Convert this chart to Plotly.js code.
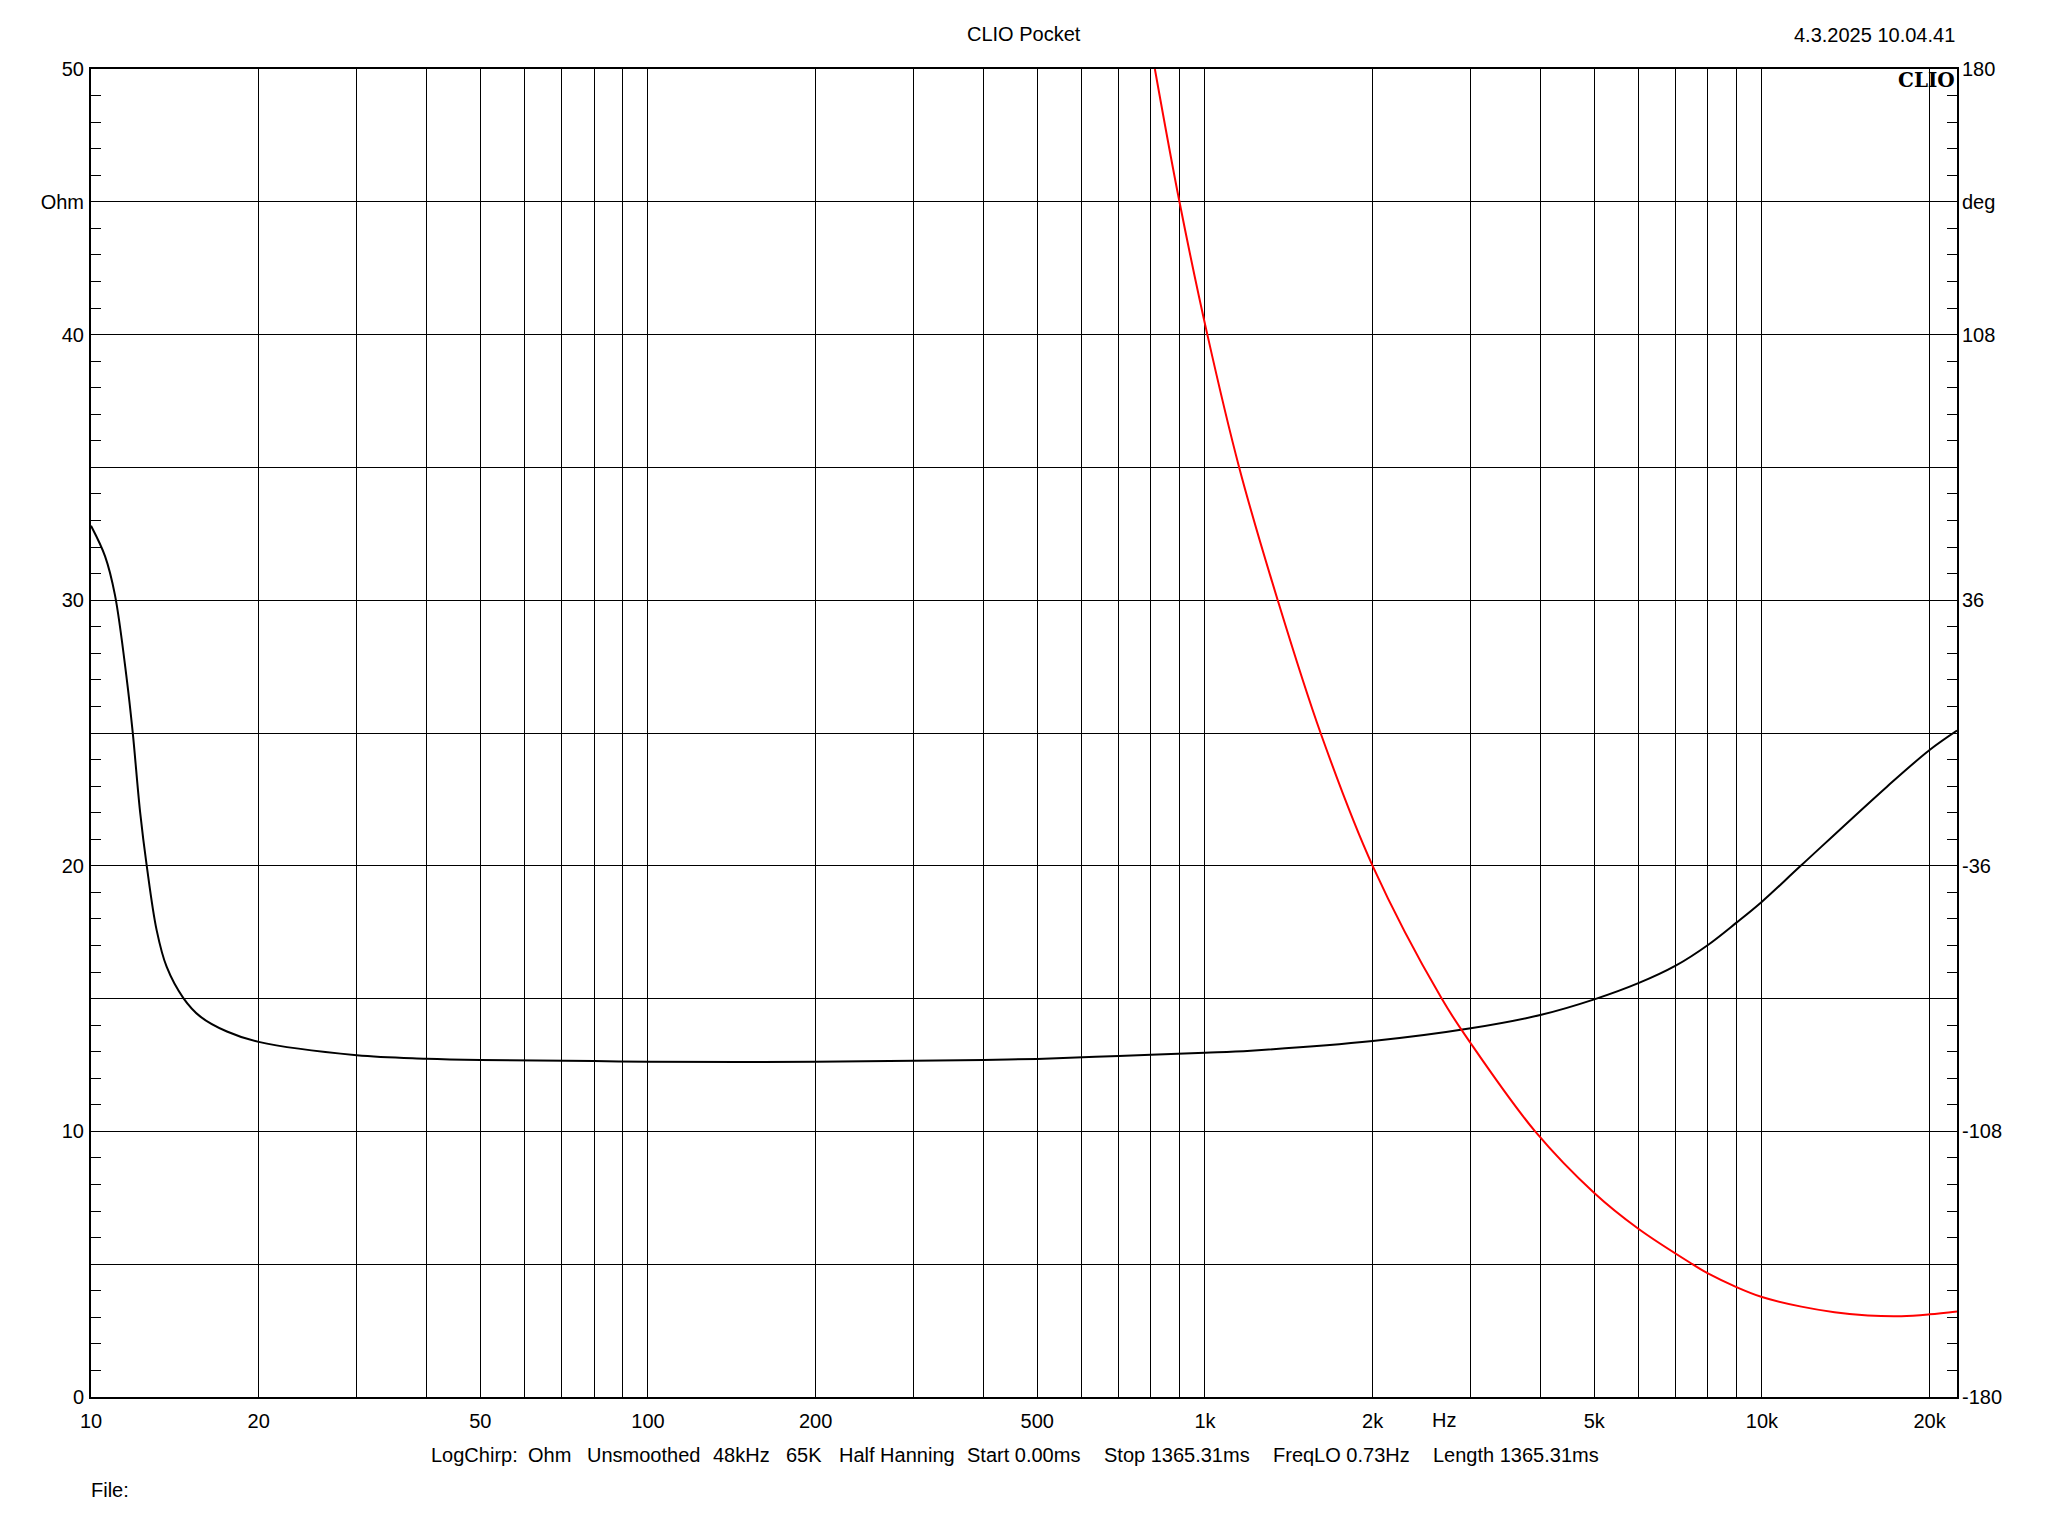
<!DOCTYPE html>
<html>
<head>
<meta charset="utf-8">
<script src="https://cdn.plot.ly/plotly-3.0.1.min.js"></script>
<style>html,body{margin:0;padding:0;background:#fff}#chart{width:2048px;height:1536px}</style>
</head>
<body>
<div id="chart"></div>
<script>
// Impedance magnitude (Ohm) vs frequency (Hz)
const freqZ = [10, 10.6, 11.04, 11.59, 11.88, 12.25, 12.59, 13.12, 13.67, 14.65, 15.7, 17.54, 20, 30, 40, 50, 80, 100, 200, 300, 400, 500, 700, 1000, 1209, 2000, 3000, 4000, 5000, 6000, 7000, 8000, 9000, 10000, 11740, 16770, 20000, 22400];
const impedance = [32.8, 31.65, 30.2, 27.05, 25.04, 22.03, 20.01, 17.57, 16.2, 15.02, 14.33, 13.76, 13.37, 12.87, 12.74, 12.69, 12.65, 12.62, 12.62, 12.66, 12.69, 12.73, 12.84, 12.96, 13.04, 13.40, 13.88, 14.38, 14.97, 15.58, 16.24, 17.02, 17.86, 18.65, 20.0, 22.98, 24.36, 25.09];

// Phase (deg) vs frequency (Hz)
const freqPhase = [813, 900, 1010, 1152, 1351, 1613, 2000, 2661, 3000, 3916, 5000, 6000, 7503, 8000, 9000, 10000, 11770, 13500, 15500, 17800, 20000, 22400];
const phase = [180, 144, 108, 72, 36, 0, -36, -72, -84.1, -108, -124.7, -134.4, -144, -146.5, -150.2, -152.9, -155.5, -157.0, -157.9, -158.1, -157.6, -156.8];

// Axis ticks
const xTickVals = [10,20,30,40,50,60,70,80,90,100,200,300,400,500,600,700,800,900,1000,2000,3000,4000,5000,6000,7000,8000,9000,10000,20000];
const xTickText = ['10','20','','','50','','','','','100','200','','','500','','','','','1k','2k','','','5k','','','','','10k','20k'];
const yTickVals = [0,5,10,15,20,25,30,35,40,45,50];
const yTickText = ['0','','10','','20','','30','','40','Ohm','50'];
const y2TickVals = [-180,-144,-108,-72,-36,0,36,72,108,144,180];
const y2TickText = ['-180','','-108','','-36','','36','','108','deg','180'];
const xUnitLabel = 'Hz';

const titleText = 'CLIO Pocket';
const dateText = '4.3.2025 10.04.41';
const logoText = 'CLIO';
const fileText = 'File:';
const infoItems = ['LogChirp:', 'Ohm', 'Unsmoothed', '48kHz', '65K', 'Half Hanning', 'Start 0.00ms', 'Stop 1365.31ms', 'FreqLO 0.73Hz', 'Length 1365.31ms'];
const infoX = [429, 526, 585, 711, 784, 837, 965, 1102, 1271, 1431];

// minor ticks
const yMinor = [];
for (let v = 0; v <= 50; v++) if (v % 5 !== 0) yMinor.push(v);
const y2Minor = [];
for (let i = 0; i <= 50; i++) if (i % 5 !== 0) y2Minor.push(-180 + i * 7.2);

const L = 91, R = 1957, T = 69, B = 1397;
const px = x => (x - L) / (R - L);
const py = y => (B - y) / (B - T);
const FONT = 'Liberation Sans, Arial, sans-serif';
const FS = 20;

const traces = [
  {x: freqZ, y: impedance, type: 'scatter', mode: 'lines', line: {color: '#000000', width: 2, shape: 'spline', smoothing: 1}, yaxis: 'y', hoverinfo: 'skip'},
  {x: freqPhase, y: phase, type: 'scatter', mode: 'lines', line: {color: '#ff0000', width: 2, shape: 'spline', smoothing: 1}, yaxis: 'y2', hoverinfo: 'skip'}
];

const annotations = [
  {text: titleText, x: px(1024), y: py(34), xref: 'paper', yref: 'paper', xanchor: 'center', yanchor: 'middle', showarrow: false, font: {family: FONT, size: FS, color: '#000'}},
  {text: dateText, x: px(1957), y: py(35), xref: 'paper', yref: 'paper', xanchor: 'right', yanchor: 'middle', showarrow: false, font: {family: FONT, size: FS, color: '#000'}},
  {text: '<b>' + logoText + '</b>', x: px(1957), y: py(66), xref: 'paper', yref: 'paper', xanchor: 'right', yanchor: 'top', showarrow: false, font: {family: 'DejaVu Serif, serif', size: 20, color: '#000'}},
  {text: xUnitLabel, x: px(1444), y: py(1420), xref: 'paper', yref: 'paper', xanchor: 'center', yanchor: 'middle', showarrow: false, font: {family: FONT, size: FS, color: '#000'}},
  {text: fileText, x: px(89), y: py(1490), xref: 'paper', yref: 'paper', xanchor: 'left', yanchor: 'middle', showarrow: false, font: {family: FONT, size: FS, color: '#000'}}
];
infoItems.forEach((t, i) => annotations.push({text: t, x: px(infoX[i]), y: py(1455), xref: 'paper', yref: 'paper', xanchor: 'left', yanchor: 'middle', showarrow: false, font: {family: FONT, size: FS, color: '#000'}}));

const layout = {
  width: 2048, height: 1536,
  margin: {l: L, r: 2048 - R, t: T, b: 1536 - B, pad: 0},
  paper_bgcolor: '#fff', plot_bgcolor: '#fff',
  showlegend: false,
  font: {family: FONT, size: FS, color: '#000'},
  xaxis: {
    type: 'log', range: [1, Math.log10(22400)],
    tickmode: 'array', tickvals: xTickVals, ticktext: xTickText,
    showgrid: true, gridcolor: '#000', gridwidth: 1,
    showline: true, linecolor: '#000', linewidth: 2, mirror: true,
    ticks: '', zeroline: false, tickfont: {family: FONT, size: FS, color: '#000'},
    ticklabelstandoff: 5
  },
  yaxis: {
    range: [0, 50], tickmode: 'array', tickvals: yTickVals, ticktext: yTickText,
    showgrid: true, gridcolor: '#000', gridwidth: 1,
    showline: true, linecolor: '#000', linewidth: 2, mirror: true,
    ticks: '', zeroline: false, tickfont: {family: FONT, size: FS, color: '#000'},
    minor: {tickmode: 'array', tickvals: yMinor, ticks: 'inside', ticklen: 10, tickwidth: 1, tickcolor: '#000', showgrid: false},
    ticklabelstandoff: 1
  },
  yaxis2: {
    overlaying: 'y', side: 'right', anchor: 'x',
    range: [-180, 180], tickmode: 'array', tickvals: y2TickVals, ticktext: y2TickText,
    showgrid: false, showline: false, zeroline: false, ticks: '',
    tickfont: {family: FONT, size: FS, color: '#000'},
    minor: {tickmode: 'array', tickvals: y2Minor, ticks: 'inside', ticklen: 10, tickwidth: 1, tickcolor: '#000', showgrid: false},
    ticklabelstandoff: 4
  },
  annotations: annotations
};

Plotly.newPlot('chart', traces, layout, {staticPlot: true, displayModeBar: false});
</script>
</body>
</html>
